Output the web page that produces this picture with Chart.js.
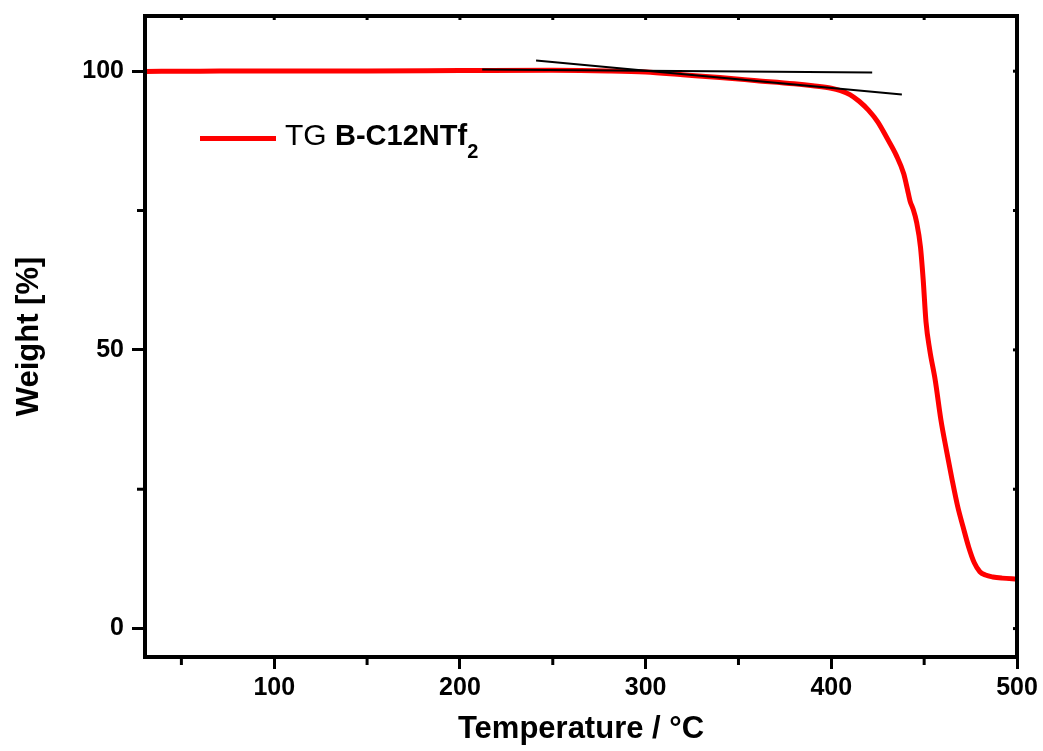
<!DOCTYPE html>
<html><head><meta charset="utf-8">
<script src="https://cdn.jsdelivr.net/npm/chart.js@4.4.1/dist/chart.umd.min.js"></script>
<style>
html,body{margin:0;padding:0;background:#fff;}
#wrap{position:relative;width:1043px;height:751px;overflow:hidden;}
canvas{display:block;}
#swatch{position:absolute;left:200px;top:136px;width:76px;height:5px;background:#ff0000;}
#legtext{position:absolute;left:285px;top:118px;font-family:"Liberation Sans",Arial,sans-serif;font-size:30px;line-height:normal;color:#000;white-space:nowrap;}
#legtext b{font-weight:bold;font-size:29px;}
#legtext .sub{font-size:20px;font-weight:bold;vertical-align:-13px;}
</style></head><body>
<div id="wrap">
<canvas id="c" width="1043" height="751"></canvas>
<div id="swatch"></div>
<div id="legtext">TG <b>B-C12NTf<span class="sub">2</span></b></div>
</div>
<script>
// ---- data ----
const temps   = [30, 60, 100, 150, 200, 250, 280, 300, 320, 340, 360, 380, 390, 400, 405, 410, 415, 420, 425, 430, 435, 439, 441, 442.5, 444, 446, 448, 449.5, 451, 453, 456, 459, 462, 465, 468, 471, 474, 477, 480, 483, 487, 492, 500];
const weights = [99.95, 100.0, 100.05, 100.05, 100.1, 100.15, 100.05, 99.85, 99.35, 98.85, 98.3, 97.75, 97.4, 96.95, 96.5, 95.8, 94.6, 93.0, 90.9, 88.0, 84.9, 81.6, 78.8, 76.6, 75.3, 72.8, 68.5, 62.5, 55.0, 50.0, 44.5, 37.5, 32.0, 26.8, 22.0, 18.2, 14.6, 11.8, 10.2, 9.6, 9.25, 9.05, 8.9];
const tangent1T = [212, 422];
const tangent1W = [100.3, 99.75];
const tangent2T = [241, 438];
const tangent2W = [101.9, 95.8];
const xMajorTicks = [100, 200, 300, 400, 500];
const xMinorTicks = [50, 150, 250, 350, 450];
const yMajorTicks = [0, 50, 100];
const yMinorTicks = [25, 75];
const seriesLabel = 'TG B-C12NTf2';
const xTitle = 'Temperature / °C';
const yTitle = 'Weight [%]';

const FAM = '"Liberation Sans", Arial, sans-serif';
const toXY = (xs, ys) => xs.map((v, i) => ({x: v, y: ys[i]}));

const framePlugin = {
  id: 'frame',
  afterDraw(chart) {
    const {ctx, chartArea: a, scales: {x, y}} = chart;
    const seg = (x1, y1, x2, y2) => { ctx.beginPath(); ctx.moveTo(x1, y1); ctx.lineTo(x2, y2); ctx.stroke(); };
    ctx.save();
    ctx.strokeStyle = '#000';
    ctx.lineWidth = 4;
    ctx.strokeRect(a.left, a.top, a.right - a.left, a.bottom - a.top);
    ctx.lineWidth = 3;
    xMinorTicks.forEach(v => { const p = x.getPixelForValue(v); seg(p, a.bottom, p, a.bottom + 8); });
    yMinorTicks.forEach(v => { const p = y.getPixelForValue(v); seg(a.left - 8, p, a.left, p); });
    xMinorTicks.concat(xMajorTicks).forEach(v => { const p = x.getPixelForValue(v); seg(p, a.top, p, a.top + 4); });
    yMinorTicks.concat(yMajorTicks).forEach(v => { const p = y.getPixelForValue(v); seg(a.right - 4, p, a.right, p); });
    ctx.restore();
  }
};

new Chart(document.getElementById('c'), {
  type: 'scatter',
  data: {
    datasets: [
      {label: seriesLabel, data: toXY(temps, weights), showLine: true, borderColor: '#ff0000', borderWidth: 5,
       pointRadius: 0, cubicInterpolationMode: 'monotone', order: 2},
      {label: 'tangent1', data: toXY(tangent1T, tangent1W), showLine: true, borderColor: '#000', borderWidth: 2, pointRadius: 0, order: 1},
      {label: 'tangent2', data: toXY(tangent2T, tangent2W), showLine: true, borderColor: '#000', borderWidth: 2, pointRadius: 0, order: 1}
    ]
  },
  options: {
    responsive: false,
    animation: false,
    layout: {padding: {left: 0, top: 16, right: 26, bottom: 0}},
    plugins: {legend: {display: false}, tooltip: {enabled: false}},
    scales: {
      x: {
        type: 'linear', min: 30.4, max: 500,
        afterBuildTicks: s => { s.ticks = xMajorTicks.map(v => ({value: v})); },
        afterFit: s => { s.height = 94; s.paddingLeft = 0; s.paddingRight = 0; },
        grid: {drawOnChartArea: false, drawTicks: true, tickLength: 12, tickWidth: 3, tickColor: '#000'},
        border: {display: false},
        ticks: {color: '#000', font: {family: FAM, size: 25, weight: 'bold'}, padding: 4, maxRotation: 0, autoSkip: false},
        title: {display: true, text: xTitle, color: '#000', font: {family: FAM, size: 31, weight: 'bold'}, padding: {top: 0, bottom: 3}}
      },
      y: {
        type: 'linear', min: -5.1, max: 109.9,
        afterBuildTicks: s => { s.ticks = yMajorTicks.map(v => ({value: v})); },
        afterFit: s => { s.width = 145; s.paddingTop = 0; s.paddingBottom = 0; },
        grid: {drawOnChartArea: false, drawTicks: true, tickLength: 13, tickWidth: 3, tickColor: '#000'},
        border: {display: false},
        ticks: {color: '#000', font: {family: FAM, size: 25, weight: 'bold'}, padding: 8, autoSkip: false},
        title: {display: true, text: yTitle, color: '#000', font: {family: FAM, size: 31, weight: 'bold'}, padding: {top: 11, bottom: 0}}
      }
    }
  },
  plugins: [framePlugin]
});
</script>
</body></html>
